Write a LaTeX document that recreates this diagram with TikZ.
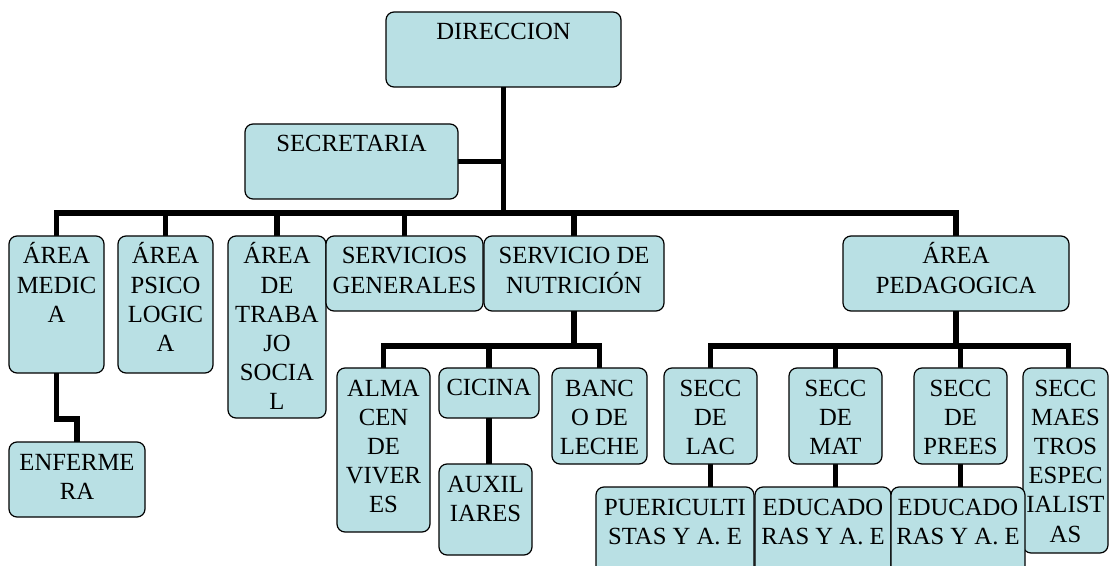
\documentclass[tikz,border=0pt]{standalone}
\usepackage{fontspec}
\setmainfont{Liberation Serif}
\usetikzlibrary{calc}
\pgfdeclarelayer{bg}
\pgfsetlayers{bg,main}
\definecolor{boxfill}{RGB}{185,224,228}
\newcommand\fl{\rule{0pt}{18pt}}
\newcommand\bx[6]{%
  \node[orgbox, anchor=north west, minimum width={(#4-#2)*0.75pt}, minimum height={(#5-#3)*0.75pt}] (#1) at (#2,#3) {};
  \node[orgtxt, anchor=north] (#1-t) at ($(#1.north)+(0,4)$) {\fl #6};
}
\tikzset{
  orgbox/.style={draw=black, line width=0.9pt, fill=boxfill, rounded corners=6pt, inner sep=0pt, outer sep=0pt},
  orgtxt/.style={inner sep=0pt, outer sep=0pt, align=center, font=\fontsize{18.5}{21.9}\selectfont},
  conn/.style={draw=black, line width=4.4pt, line join=miter}
}
\begin{document}
\begin{tikzpicture}[x=0.75pt, y=-0.75pt]
\useasboundingbox (0,0) rectangle (1110,566);
\clip (0,0) rectangle (1110,566);
\bx{dir}{386}{12}{621}{87}{DIRECCION}
\bx{sec}{245}{124}{458}{199}{SECRETARIA}
\bx{ma}{9}{236}{104}{373}{ÁREA\\MEDIC\\A}
\bx{ps}{118}{236}{213}{373}{ÁREA\\PSICO\\LOGIC\\A}
\bx{ts}{228}{236}{326}{418}{ÁREA\\DE\\TRABA\\JO\\SOCIA\\L}
\bx{sg}{326}{236}{483}{311}{SERVICIOS\\GENERALES}
\bx{nu}{484}{236}{664}{311}{SERVICIO DE\\NUTRICIÓN}
\bx{pe}{843}{236}{1069}{311}{ÁREA\\PEDAGOGICA}
\bx{enf}{9}{442}{145}{517}{ENFERME\\RA}
\bx{alm}{337}{368}{430}{532}{ALMA\\CEN\\DE\\VIVER\\ES}
\bx{cic}{439}{368}{539}{418}{CICINA}
\bx{aux}{439}{464}{532}{555}{AUXIL\\IARES}
\bx{ban}{552}{368}{647}{464}{BANC\\O DE\\LECHE}
\bx{lac}{664}{368}{757}{464}{SECC\\DE\\LAC}
\bx{mat}{789}{368}{882}{464}{SECC\\DE\\MAT}
\bx{pre}{914}{368}{1007}{464}{SECC\\DE\\PREES}
\bx{mae}{1023}{368}{1108}{553}{SECC\\MAES\\TROS\\ESPEC\\IALIST\\AS}
\bx{pue}{596}{487}{754}{578}{PUERICULTI\\STAS Y A. E}
\bx{ed1}{755}{487}{891}{578}{EDUCADO\\RAS Y A. E}
\bx{ed2}{891}{487}{1025}{578}{EDUCADO\\RAS Y A. E}
\coordinate (bus) at ($(dir.south)+(0,126)$);
\coordinate (nbus) at ($(nu.south)+(0,35)$);
\coordinate (pbus) at ($(pe.south)+(0,35)$);
\coordinate (maetop) at ($(mae.north)+(3,0)$);
\begin{pgfonlayer}{bg}
\draw[conn] (dir.south) -- (bus);
\draw[conn] (sec.east) -- (sec.east -| dir.south);
\draw[conn] (ma.north) |- (bus) -| (pe.north);
\draw[conn] (ps.north) -- (ps.north |- bus);
\draw[conn] (ts.north) -- (ts.north |- bus);
\draw[conn] (sg.north) -- (sg.north |- bus);
\draw[conn] (nu.north) -- (nu.north |- bus);
\draw[conn] (ma.south) -- ++(0,46) -| (enf.north);
\draw[conn] (nu.south) -- (nbus);
\draw[conn] (alm.north) |- (nbus) -| (ban.north);
\draw[conn] (cic.north) -- (cic.north |- nbus);
\draw[conn] (cic.south) -- (cic.south |- aux.north);
\draw[conn] (pe.south) -- (pbus);
\draw[conn] (lac.north) |- (pbus) -| (maetop);
\draw[conn] (mat.north) -- (mat.north |- pbus);
\draw[conn] (pre.north) -- (pre.north |- pbus);
\draw[conn] (lac.south) -- (lac.south |- pue.north);
\draw[conn] (mat.south) -- (mat.south |- ed1.north);
\draw[conn] (pre.south) -- (pre.south |- ed2.north);
\end{pgfonlayer}
\end{tikzpicture}
\end{document}
